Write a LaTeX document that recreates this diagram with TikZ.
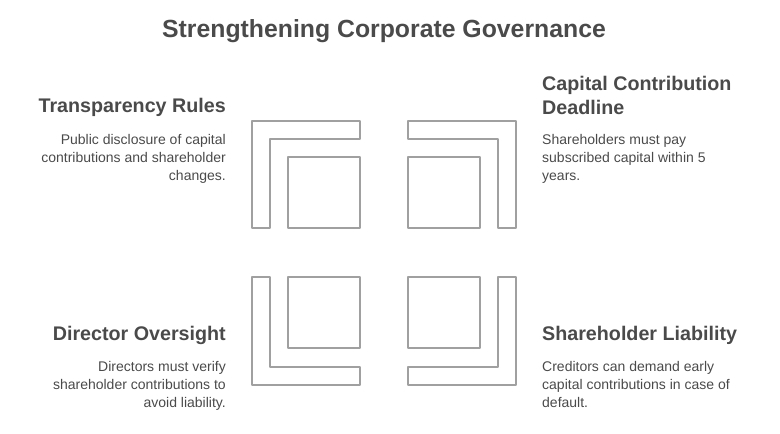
\documentclass[tikz,border=0pt]{standalone}
\usepackage{fontspec}
\setmainfont{Liberation Sans}
\definecolor{tx}{HTML}{4A4A4A}
\definecolor{ln}{HTML}{A0A0A0}
\begin{document}
\begin{tikzpicture}[x=1pt,y=-1pt,
  shp/.style={draw=ln,line width=1.6pt,line join=round},
  ttl/.style={font=\bfseries\fontsize{24.8}{28}\selectfont,text=tx,inner sep=0},
  hd/.style={font=\bfseries\fontsize{19.7}{23.5}\selectfont,text=tx,inner sep=0},
  bd/.style={font=\fontsize{14}{18}\selectfont,text=tx,inner sep=0}]
\useasboundingbox (0,0) rectangle (780,434);
\node[ttl] (title) at (384,31) {Strengthening Corporate Governance};
% shapes
\draw[shp] (252,228)--(252,121)--(360,121)--(360,139)--(270,139)--(270,228)--cycle;
\draw[shp] (288,157) rectangle (360,228);
\draw[shp] (516,228)--(516,121)--(408,121)--(408,139)--(498,139)--(498,228)--cycle;
\draw[shp] (408,157) rectangle (480,228);
\draw[shp] (252,277)--(252,385)--(360,385)--(360,367)--(270,367)--(270,277)--cycle;
\draw[shp] (288,277) rectangle (360,348);
\draw[shp] (516,277)--(516,385)--(408,385)--(408,367)--(498,367)--(498,277)--cycle;
\draw[shp] (408,277) rectangle (480,348);
% texts
\node[hd,anchor=east] (h1) at (226,107) {Transparency Rules};
\node[bd,anchor=north east,align=right] (b1) at (226,134) {Public disclosure of capital\\contributions and shareholder\\changes.};
\node[hd,anchor=west,align=left] (h2) at (542,95.5) {Capital Contribution\\Deadline};
\node[bd,anchor=north west,align=left] (b2) at (542,134) {Shareholders must pay\\subscribed capital within 5\\years.};
\node[hd,anchor=east] (h3) at (226,335) {Director Oversight};
\node[bd,anchor=north east,align=right] (b3) at (226,361) {Directors must verify\\shareholder contributions to\\avoid liability.};
\node[hd,anchor=west] (h4) at (542,335) {Shareholder Liability};
\node[bd,anchor=north west,align=left] (b4) at (542,361) {Creditors can demand early\\capital contributions in case of\\default.};
\end{tikzpicture}
\end{document}
